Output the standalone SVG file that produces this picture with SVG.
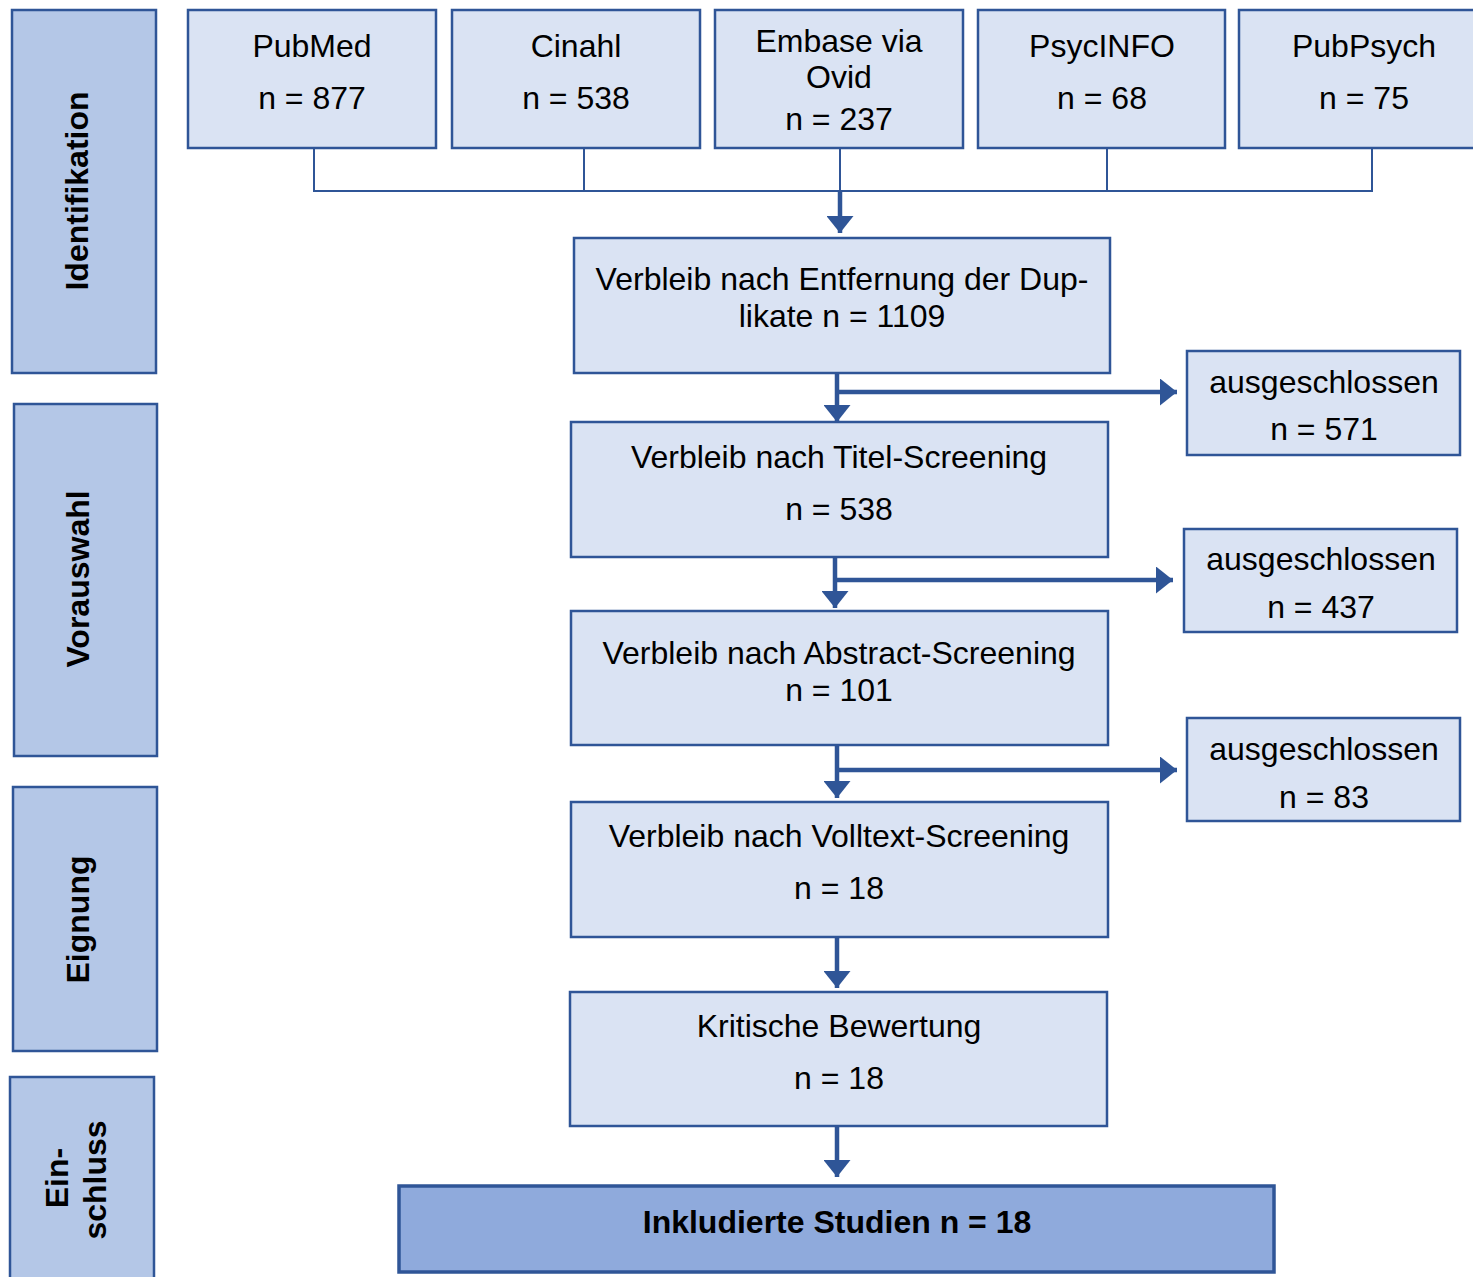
<svg xmlns="http://www.w3.org/2000/svg" width="1473" height="1277" viewBox="0 0 1473 1277">
<style>
.box{fill:#dae3f3;stroke:#2f5597;stroke-width:2.5}
.side{fill:#b4c7e7;stroke:#2f5597;stroke-width:2.5}
.final{fill:#8faadc;stroke:#2f5597;stroke-width:3.5}
.t{font-family:"Liberation Sans",Arial,sans-serif;font-size:32px;fill:#000;text-anchor:middle}
.b{font-family:"Liberation Sans",Arial,sans-serif;font-size:32px;font-weight:bold;fill:#000;text-anchor:middle}
.thin{fill:none;stroke:#2f5597;stroke-width:2}
.thick{fill:none;stroke:#2f5597;stroke-width:4.5}
</style>
<defs>
<marker id="ah" viewBox="0 0 17 27" refX="17" refY="13.5" markerWidth="17" markerHeight="27" markerUnits="userSpaceOnUse" orient="auto">
<path d="M0,0 L17,13.5 L0,27 z" fill="#2f5597"/>
</marker>
</defs>
<rect width="1473" height="1277" fill="#fff"/>

<g id="side-identifikation"><rect class="side" x="12" y="10" width="144" height="363"/><text class="b" transform="translate(88,191) rotate(-90)">Identifikation</text></g>
<g id="side-vorauswahl"><rect class="side" x="14" y="404" width="143" height="352"/><text class="b" transform="translate(89,579) rotate(-90)">Vorauswahl</text></g>
<g id="side-eignung"><rect class="side" x="13" y="787" width="144" height="264"/><text class="b" transform="translate(89,919.5) rotate(-90)">Eignung</text></g>
<g id="side-einschluss"><rect class="side" x="10" y="1077" width="144" height="215"/><text class="b" transform="translate(68,1178) rotate(-90)">Ein-</text><text class="b" transform="translate(106,1180) rotate(-90)">schluss</text></g>

<g id="connectors">
<path class="thin" d="M314,148 V191 H1372 V148 M584,148 V191 M1107,148 V191 M840,148 V191"/>
<path class="thick" d="M840,191 V233" marker-end="url(#ah)"/>
<path class="thick" d="M837,373 V422" marker-end="url(#ah)"/>
<path class="thick" d="M837,392 H1177" marker-end="url(#ah)"/>
<path class="thick" d="M835,557 V608" marker-end="url(#ah)"/>
<path class="thick" d="M835,580 H1173" marker-end="url(#ah)"/>
<path class="thick" d="M837,745 V798" marker-end="url(#ah)"/>
<path class="thick" d="M837,770 H1177" marker-end="url(#ah)"/>
<path class="thick" d="M837,937 V988" marker-end="url(#ah)"/>
<path class="thick" d="M837,1126 V1177" marker-end="url(#ah)"/>
</g>

<g id="pubmed"><rect class="box" x="188" y="10" width="248" height="138"/><text class="t" x="312" y="57">PubMed</text><text class="t" x="312" y="109">n = 877</text></g>
<g id="cinahl"><rect class="box" x="452" y="10" width="248" height="138"/><text class="t" x="576" y="57">Cinahl</text><text class="t" x="576" y="109">n = 538</text></g>
<g id="embase"><rect class="box" x="715" y="10" width="248" height="138"/><text class="t" x="839" y="52">Embase via</text><text class="t" x="839" y="88">Ovid</text><text class="t" x="839" y="130">n = 237</text></g>
<g id="psycinfo"><rect class="box" x="978" y="10" width="247" height="138"/><text class="t" x="1102" y="57">PsycINFO</text><text class="t" x="1102" y="109">n = 68</text></g>
<g id="pubpsych"><rect class="box" x="1239" y="10" width="252" height="138"/><text class="t" x="1364" y="57">PubPsych</text><text class="t" x="1364" y="109">n = 75</text></g>

<g id="duplikate"><rect class="box" x="574" y="238" width="536" height="135"/><text class="t" x="842" y="290">Verbleib nach Entfernung der Dup-</text><text class="t" x="842" y="327">likate n = 1109</text></g>
<g id="titel"><rect class="box" x="571" y="422" width="537" height="135"/><text class="t" x="839" y="468">Verbleib nach Titel-Screening</text><text class="t" x="839" y="520">n = 538</text></g>
<g id="abstract"><rect class="box" x="571" y="611" width="537" height="134"/><text class="t" x="839" y="664">Verbleib nach Abstract-Screening</text><text class="t" x="839" y="701">n = 101</text></g>
<g id="volltext"><rect class="box" x="571" y="802" width="537" height="135"/><text class="t" x="839" y="847">Verbleib nach Volltext-Screening</text><text class="t" x="839" y="899">n = 18</text></g>
<g id="kritisch"><rect class="box" x="570" y="992" width="537" height="134"/><text class="t" x="839" y="1037">Kritische Bewertung</text><text class="t" x="839" y="1089">n = 18</text></g>
<g id="inkludiert"><rect class="final" x="399" y="1186" width="875" height="86"/><text class="b" x="837" y="1233">Inkludierte Studien n = 18</text></g>

<g id="excl1"><rect class="box" x="1187" y="351" width="273" height="104"/><text class="t" x="1324" y="393">ausgeschlossen</text><text class="t" x="1324" y="440">n = 571</text></g>
<g id="excl2"><rect class="box" x="1184" y="529" width="273" height="103"/><text class="t" x="1321" y="570">ausgeschlossen</text><text class="t" x="1321" y="618">n = 437</text></g>
<g id="excl3"><rect class="box" x="1187" y="718" width="273" height="103"/><text class="t" x="1324" y="760">ausgeschlossen</text><text class="t" x="1324" y="808">n = 83</text></g>
</svg>
